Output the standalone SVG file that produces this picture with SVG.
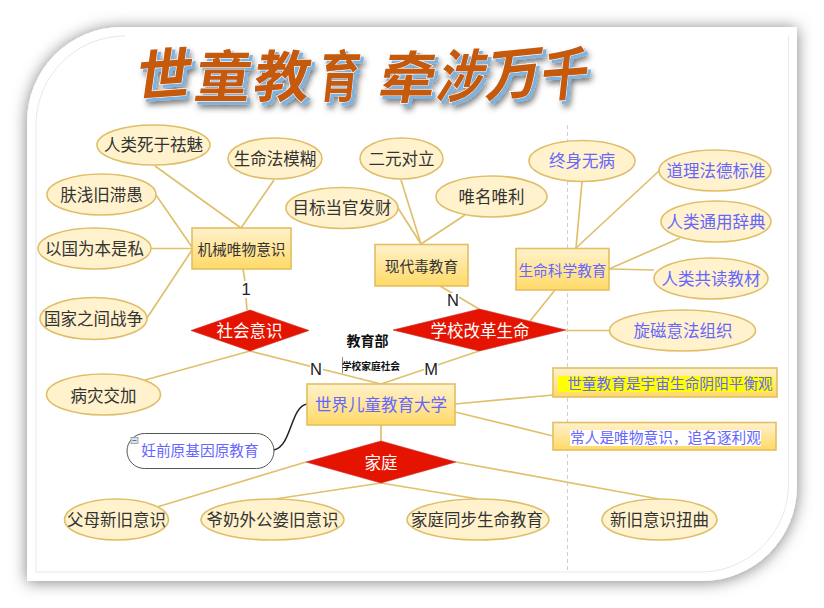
<svg xmlns="http://www.w3.org/2000/svg" width="824" height="608" viewBox="0 0 824 608">
<style>
text{font-family:"Noto Sans CJK SC","Liberation Sans",sans-serif;text-anchor:middle}
.e{fill:#fff2cc;stroke:#dfbe68;stroke-width:1.6}
.r{fill:url(#g);stroke:#e3bf62;stroke-width:1.6}
.d{fill:#e51400;stroke:#c8282c;stroke-width:.6}
.k{font-size:16.500px;fill:#333}
.b{font-size:16.500px;fill:#6666ff}
.w{font-size:16.500px;fill:#fff}
.s{font-size:14.700px}
.c line{stroke:#dfc06c;stroke-width:1.700}
.l{font-size:16.500px;fill:#222;font-family:"Liberation Sans",sans-serif}
.t{font-size:56px;font-weight:700;fill:#c55a11;stroke:#fff;stroke-width:1;paint-order:stroke}
</style>
<defs>
<linearGradient id="g" x1="0" y1="0" x2="0" y2="1"><stop offset="0" stop-color="#fff2cc"/><stop offset="1" stop-color="#ffd966"/></linearGradient>
<filter id="fs" x="-10%" y="-10%" width="120%" height="120%"><feDropShadow dx="0" dy="1" stdDeviation="8" flood-color="#000" flood-opacity=".5"/></filter>
<filter id="ts" x="-10%" y="-30%" width="120%" height="170%">
<feOffset in="SourceAlpha" dx="3" dy="3" result="o"/><feFlood flood-color="#7fb2dc"/><feComposite in2="o" operator="in" result="bl"/>
<feOffset in="SourceAlpha" dx="4" dy="6" result="o2"/><feGaussianBlur in="o2" stdDeviation="3" result="o3"/><feFlood flood-color="#000" flood-opacity=".6"/><feComposite in2="o3" operator="in" result="dk"/>
<feMerge><feMergeNode in="dk"/><feMergeNode in="bl"/><feMergeNode in="SourceGraphic"/></feMerge>
</filter>
</defs>
<rect width="824" height="608" fill="#fff"/>
<g id="frame">
<path d="M122,27H797V486A95,95 0 0 1 702,581H27V122A95,95 0 0 1 122,27Z" fill="#fff" filter="url(#fs)"/>
<path d="M125,36A89,89 0 0 0 36,125V572H700A88,88 0 0 0 788.500,484V36" fill="none" stroke="#e8e8e8" stroke-width="1"/>
<line x1="567.500" y1="125" x2="567.500" y2="572" stroke="#cfcfcf" stroke-width="1" stroke-dasharray="4 3"/>
</g>
<g id="title" filter="url(#ts)">
<text class="t" transform="translate(162 95) rotate(-4) skewX(-12)">世</text>
<text class="t" transform="translate(221 97) skewX(-8)">童</text>
<text class="t" transform="translate(280 97) skewX(-8)">教</text>
<text class="t" transform="translate(338 97) skewX(-6) scale(.72 1)">育</text>
<text class="t" transform="translate(405 98) skewX(-10)">牵</text>
<text class="t" transform="translate(458 97) skewX(-14) scale(.82 1.020)">涉</text>
<text class="t" transform="translate(512 94) rotate(-6) skewX(-14)">万</text>
<text class="t" transform="translate(563 95) rotate(-4) skewX(-10) scale(.85 1.020)">千</text>
</g>
<g id="connectors" class="c">
<line x1="155" y1="166" x2="241" y2="228"/>
<line x1="274" y1="180" x2="241" y2="228"/>
<line x1="156" y1="195" x2="192" y2="247"/>
<line x1="151" y1="248.500" x2="192" y2="248.500"/>
<line x1="147" y1="318" x2="192" y2="250"/>
<line x1="243" y1="269" x2="245" y2="281"/>
<line x1="246" y1="298" x2="247" y2="310"/>
<line x1="145" y1="380" x2="250" y2="351"/>
<line x1="250" y1="351" x2="381" y2="384"/>
<line x1="479" y1="351" x2="381" y2="384"/>
<line x1="440" y1="286" x2="479" y2="309"/>
<line x1="555" y1="290" x2="530" y2="321"/>
<line x1="401" y1="180" x2="421" y2="244"/>
<line x1="398" y1="208" x2="421" y2="244"/>
<line x1="465" y1="215" x2="421" y2="244"/>
<line x1="582" y1="182" x2="576" y2="248"/>
<line x1="660" y1="170" x2="576" y2="248"/>
<line x1="680" y1="238" x2="609" y2="269"/>
<line x1="654" y1="270" x2="609" y2="269"/>
<line x1="566" y1="330.500" x2="609" y2="330.500"/>
<line x1="455" y1="404" x2="553" y2="395"/>
<line x1="455" y1="412" x2="553" y2="436"/>
<line x1="381" y1="425" x2="381" y2="441"/>
<line x1="306" y1="462" x2="157" y2="507"/>
<line x1="381" y1="483" x2="275" y2="499"/>
<line x1="381" y1="483" x2="478" y2="499"/>
<line x1="456" y1="462" x2="659" y2="499"/>
<path d="M274,450C292,446 290,407 307,404" fill="none" stroke="#222" stroke-width="1.500"/>
</g>
<g id="n1"><ellipse class="e" cx="153.500" cy="145" rx="56.500" ry="20"/><text class="k" x="153.500" y="151">人类死于祛魅</text></g>
<g id="n2"><ellipse class="e" cx="275" cy="158.500" rx="47" ry="20.500"/><text class="k" x="275" y="165">生命法模糊</text></g>
<g id="n3"><ellipse class="e" cx="101.500" cy="194.500" rx="54.500" ry="20.500"/><text class="k" x="101.500" y="201">肤浅旧滞愚</text></g>
<g id="n4"><ellipse class="e" cx="94.500" cy="248.500" rx="56.500" ry="20.500"/><text class="k" x="94.500" y="255">以国为本是私</text></g>
<g id="n5"><ellipse class="e" cx="93.500" cy="318.500" rx="53.500" ry="21"/><text class="k" x="93.500" y="325">国家之间战争</text></g>
<g id="n6"><ellipse class="e" cx="103.500" cy="394.500" rx="57" ry="20.500"/><text class="k" x="103.500" y="402">病灾交加</text></g>
<g id="n7"><ellipse class="e" cx="342" cy="208" rx="56" ry="20.500"/><text class="k" x="342" y="214">目标当官发财</text></g>
<g id="n8"><ellipse class="e" cx="401.500" cy="158.500" rx="41.500" ry="20.500"/><text class="k" x="401.500" y="165">二元对立</text></g>
<g id="n9"><ellipse class="e" cx="491.500" cy="196.500" rx="55.500" ry="20.500"/><text class="k" x="491.500" y="203">唯名唯利</text></g>
<g id="n10"><ellipse class="e" cx="582" cy="161" rx="53" ry="20.500"/><text class="b" x="582" y="167">终身无病</text></g>
<g id="n11"><ellipse class="e" cx="715" cy="170.500" rx="56" ry="20.500"/><text class="b" x="716" y="177">道理法德标准</text></g>
<g id="n12"><ellipse class="e" cx="716" cy="221.500" rx="55" ry="20.500"/><text class="b" x="716" y="228">人类通用辞典</text></g>
<g id="n13"><ellipse class="e" cx="711" cy="278.500" rx="57" ry="20.500"/><text class="b" x="711" y="285">人类共读教材</text></g>
<g id="n14"><ellipse class="e" cx="682.500" cy="330.500" rx="73" ry="20.500"/><text class="b" x="683" y="337">旋磁意法组织</text></g>
<g id="n15"><ellipse class="e" cx="116.500" cy="519.500" rx="52" ry="20.500"/><text class="k" x="116.500" y="526">父母新旧意识</text></g>
<g id="n16"><ellipse class="e" cx="272.500" cy="519.500" rx="71.500" ry="20.500"/><text class="k" x="272.500" y="526">爷奶外公婆旧意识</text></g>
<g id="n17"><ellipse class="e" cx="478" cy="519.500" rx="71" ry="20.500"/><text class="k" x="477" y="526">家庭同步生命教育</text></g>
<g id="n18"><ellipse class="e" cx="659.500" cy="519.500" rx="57.500" ry="20.500"/><text class="k" x="659.500" y="526">新旧意识扭曲</text></g>
<g id="r1"><rect class="r" x="192" y="228" width="99" height="41"/><text class="k s" x="241.500" y="255">机械唯物意识</text></g>
<g id="r2"><rect class="r" x="375" y="244.500" width="93" height="41.500"/><text class="k s" x="421.500" y="272">现代毒教育</text></g>
<g id="r3"><rect class="r" x="516" y="248.500" width="93" height="41.500"/><text class="b s" x="562.500" y="276">生命科学教育</text></g>
<g id="r4"><rect class="r" x="307" y="384" width="148" height="41"/><text class="b" x="381" y="411">世界儿童教育大学</text></g>
<g id="r5"><rect class="r" x="553" y="368" width="224" height="29"/><rect x="558" y="376" width="215" height="16" fill="#ff0"/><text class="b s" x="670" y="389">世童教育是宇宙生命阴阳平衡观</text></g>
<g id="r6"><rect class="r" x="553" y="422.500" width="223" height="27.500"/><rect x="570" y="430" width="191" height="16" fill="#fff"/><text class="b s" x="665.500" y="443">常人是唯物意识，追名逐利观</text></g>
<g id="d1"><polygon class="d" points="191,330.500 250,310 309,330.500 250,351"/><text class="w" x="249.500" y="337">社会意识</text></g>
<g id="d2"><polygon class="d" points="393,330 479.500,309 566,330 479.500,351"/><text class="w" x="480" y="337">学校改革生命</text></g>
<g id="d3"><polygon class="d" points="306,462 381,441 456,462 381,483"/><text class="w" x="381" y="469">家庭</text></g>
<g id="pill"><rect x="127" y="433.500" width="147" height="35" rx="17.500" fill="#fff" stroke="#555" stroke-width="1"/><rect x="131" y="437.500" width="7" height="6" fill="#dde3ea" stroke="#8a98a8" stroke-width=".8"/><line x1="132.500" y1="440.500" x2="136.500" y2="440.500" stroke="#556" stroke-width=".8"/><text class="b s" x="200" y="456">妊前原基因原教育</text></g>
<g id="labels">
<text class="l" x="246" y="295">1</text>
<rect x="310" y="361" width="13" height="15" fill="#fff"/><text class="l" x="316" y="375">N</text>
<rect x="424" y="361" width="14" height="15" fill="#fff"/><text class="l" x="431" y="375">M</text>
<rect x="446" y="293" width="13" height="15" fill="#fff"/><text class="l" x="453" y="306">N</text>
<text x="367.500" y="346" font-size="14" font-weight="700" fill="#111">教育部</text>
<line x1="342.500" y1="357" x2="342.500" y2="373" stroke="#555" stroke-width=".7"/>
<text x="371" y="370" font-size="9.700" font-weight="700" fill="#111">学校家庭社会</text>
</g>
</svg>
